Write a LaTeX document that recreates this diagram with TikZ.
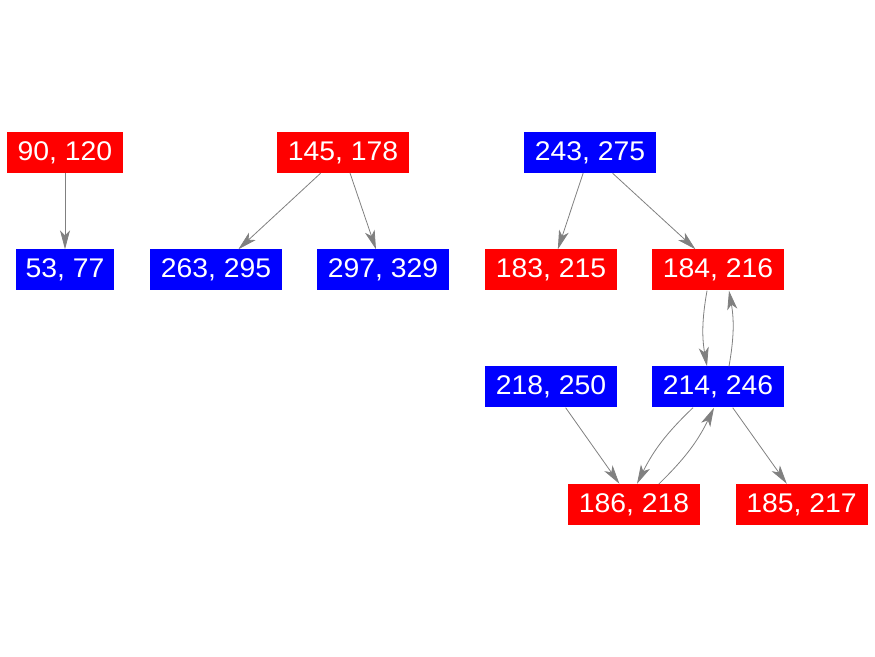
\documentclass[tikz,border=0pt]{standalone}
\usepackage{fontspec}
\setmainfont{Liberation Sans}[FakeStretch=1.05]
\usetikzlibrary{arrows.meta}
\definecolor{edgegray}{RGB}{128,128,128}
\definecolor{nodered}{RGB}{255,0,0}
\definecolor{nodeblue}{RGB}{0,0,255}
\tikzset{
  box/.style={inner sep=0pt, minimum height=41pt, minimum width=132pt, text=white,
    font=\fontsize{27}{31}\selectfont},
  redbox/.style={box, fill=nodered},
  bluebox/.style={box, fill=nodeblue},
  edge/.style={draw=edgegray, line width=0.8pt,
    -{Stealth[length=19pt,width=10pt,inset=5pt,fill=edgegray]}},
}
\begin{document}
\begin{tikzpicture}[x=1pt,y=1pt]
\useasboundingbox (0,0) rectangle (875,656);
\node[redbox, minimum width=116pt] (n90) at (65,503.5) {90, 120};
\node[bluebox, minimum width=98pt] (n53) at (65,386) {53, 77};
\node[redbox] (n145) at (343,503.5) {145, 178};
\node[bluebox] (n263) at (216,386) {263, 295};
\node[bluebox] (n297) at (383,386) {297, 329};
\node[bluebox] (n243) at (590,503.5) {243, 275};
\node[redbox] (n183) at (551,386) {183, 215};
\node[redbox] (n184) at (718,386) {184, 216};
\node[bluebox] (n218) at (551,269) {218, 250};
\node[bluebox] (n214) at (718,269) {214, 246};
\node[redbox] (n186) at (634,151.5) {186, 218};
\node[redbox] (n185) at (801.5,151.5) {185, 217};

\draw[edge] (n90) -- (n53);
\draw[edge] (n145) -- (n263);
\draw[edge] (n145) -- (n297);
\draw[edge] (n243) -- (n183);
\draw[edge] (n243) -- (n184);
\draw[edge] ([xshift=-11pt]n184.south) to[bend right=10] ([xshift=-11pt]n214.north);
\draw[edge] ([xshift=11pt]n214.north) to[bend right=10] ([xshift=11pt]n184.south);
\draw[edge] (n218) -- (n186);
\draw[edge] ([xshift=-25pt]n214.south) to[bend right=10] ([xshift=3pt]n186.north);
\draw[edge] ([xshift=25pt]n186.north) to[bend right=10] ([xshift=-4pt]n214.south);
\draw[edge] (n214) -- (n185);
\end{tikzpicture}
\end{document}
